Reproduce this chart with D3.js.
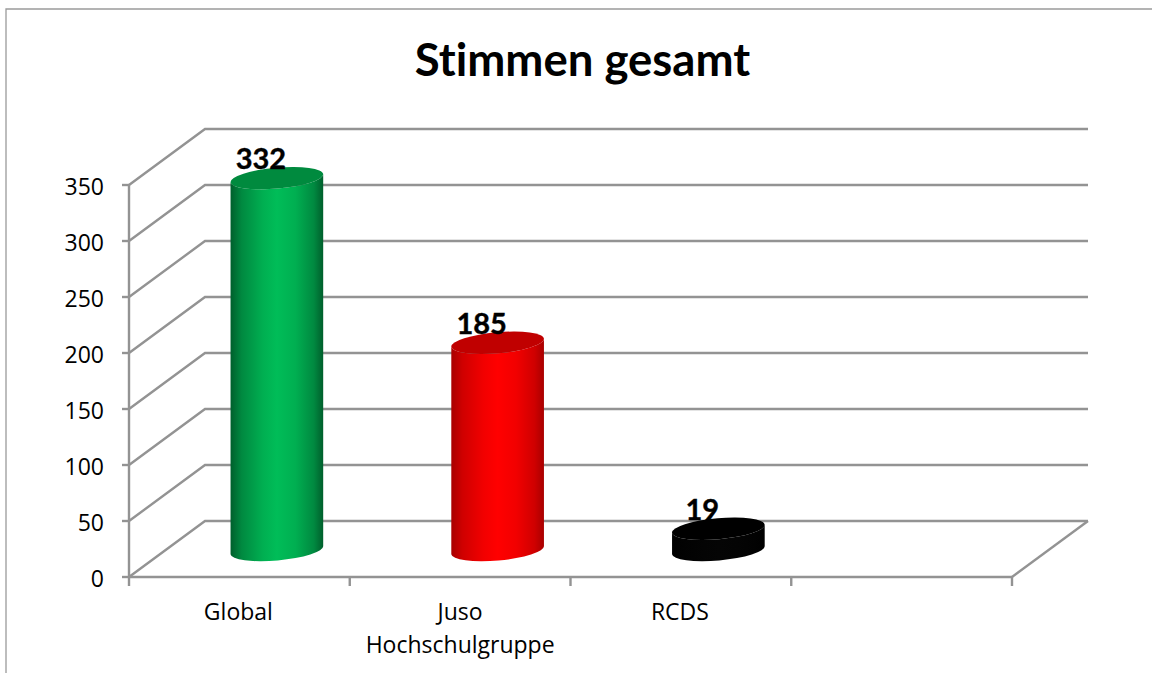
<!DOCTYPE html>
<html>
<head>
    <meta charset="UTF-8">
    <script src="https://d3js.org/d3.v7.min.js"></script>
    <style>
        html, body { margin: 0; padding: 0; background: #fff; overflow: hidden; }
        svg { display: block; }
        .axis text { font-family: "Open Sans", sans-serif; font-size: 23px; fill: #000; }
        .axis line, .axis path { stroke: #939393; stroke-width: 2.4px; }
    </style>
</head>
<body>
    <svg width="1152" height="673"></svg>
    <script>
        // values
        var title = "Stimmen gesamt";
        var categories = ["Global", "Juso Hochschulgruppe", "RCDS", ""];
        var values = [332, 185, 19];
        var yTicks = [0, 50, 100, 150, 200, 250, 300, 350];
        var edgeColors = ["#005f2c", "#a80000", "#000000"];
        var midColors = ["#00bd58", "#ff0000", "#050505"];
        var topColors = ["#008a3e", "#c00000", "#000000"];

        var svg = d3.select("svg");
        var grey = "#939393";

        // 3d offset of the back wall
        var depthX = 76, depthY = -56;

        var x = d3.scaleBand().domain(categories).range([129, 1012]);
        var xEdges = d3.scaleLinear().domain([0, 4]).range([129, 1012]);
        var y = d3.scaleLinear().domain([0, 350]).range([577, 185]);

        // outer frame of the chart
        svg.append("path")
            .attr("d", d3.line()([[6, 673], [6, 9], [1152, 9]]))
            .attr("fill", "none")
            .attr("stroke", "#9a9a9a")
            .attr("stroke-width", 1.3);

        svg.append("text")
            .attr("x", 582.5)
            .attr("y", 76)
            .attr("text-anchor", "middle")
            .style("font-family", "Lato, sans-serif")
            .style("font-weight", "bold")
            .style("font-size", "45.5px")
            .style("font-variant-ligatures", "none")
            .text(title);

        // wall lines
        var wall = svg.append("g").attr("fill", "none").attr("stroke", grey).attr("stroke-width", 2.4);
        yTicks.forEach(function (t) {
            wall.append("path").attr("d", d3.line()([
                [x.range()[0], y(t)],
                [x.range()[0] + depthX, y(t) + depthY],
                [x.range()[1] + depthX, y(t) + depthY]
            ]));
        });
        wall.append("path").attr("d", d3.line()([
            [x.range()[1], y(0)],
            [x.range()[1] + depthX, y(0) + depthY]
        ]));

        // axes
        var yAxis = d3.axisLeft(y).tickValues(yTicks).tickSize(7).tickPadding(18).tickSizeOuter(0).offset(0);
        var yG = svg.append("g")
            .attr("class", "axis")
            .attr("transform", "translate(129,0)")
            .call(yAxis);
        yG.selectAll("text").attr("dy", "0.42em");

        var xAxis = d3.axisBottom(xEdges).ticks(4).tickSize(9).tickSizeOuter(0).tickFormat("").offset(0);
        svg.append("g")
            .attr("class", "axis")
            .attr("transform", "translate(0,577)")
            .call(xAxis);

        // category labels, wrapped like the original
        var labels = svg.append("g").attr("class", "axis");
        categories.forEach(function (c) {
            if (!c) return;
            var words = c.split(" ");
            var t = labels.append("text")
                .attr("text-anchor", "middle")
                .attr("y", 620);
            words.forEach(function (w, i) {
                t.append("tspan")
                    .attr("x", x(c) + x.bandwidth() / 2 - (words.length > 1 ? 0 : 1))
                    .attr("dy", i ? 33 : 0)
                    .text(w);
            });
        });

        // gradients for the cylinders
        var defs = svg.append("defs");
        var gradStops = [[0, 0], [12, 0.45], [35, 0.85], [50, 1], [70, 0.85], [90, 0.45], [100, 0]];
        values.forEach(function (v, i) {
            var g = defs.append("linearGradient").attr("id", "bar" + i);
            gradStops.forEach(function (s) {
                g.append("stop")
                    .attr("offset", s[0] + "%")
                    .attr("stop-color", d3.interpolateRgb(edgeColors[i], midColors[i])(s[1]));
            });
        });

        // cylinders
        var rx = 46.5, ry = 10.5, tilt = -5;
        var tiltRad = tilt * Math.PI / 180;
        var endX = rx * Math.cos(tiltRad), endY = rx * Math.sin(tiltRad);

        function arc(cx, cy, sweep) {
            return "A" + rx + "," + ry + " " + tilt + " 0 " + sweep + " " + (cx + (sweep ? -endX : endX)) + "," + (cy + (sweep ? -endY : endY));
        }

        var bars = svg.selectAll(".bar").data(values).enter().append("g").attr("class", "bar");
        bars.each(function (v, i) {
            var g = d3.select(this);
            var cx = x(categories[i]) + x.bandwidth() / 2 + depthX / 2 - 0.5;
            var bottom = y(0) + depthY / 2 + 1;
            var top = y(v) + depthY / 2 + 1;

            // side of the cylinder
            g.append("path")
                .attr("fill", "url(#bar" + i + ")")
                .attr("d", "M" + (cx - endX) + "," + (top - endY)
                    + "L" + (cx - endX) + "," + (bottom - endY)
                    + arc(cx, bottom, 0)
                    + "L" + (cx + endX) + "," + (top + endY)
                    + arc(cx, top, 1) + "Z");

            // lid
            g.append("ellipse")
                .attr("rx", rx)
                .attr("ry", ry)
                .attr("transform", "translate(" + cx + "," + top + ") rotate(" + tilt + ")")
                .attr("fill", topColors[i]);

            g.append("text")
                .attr("x", cx - 16)
                .attr("y", top - 9)
                .attr("text-anchor", "middle")
                .style("font-family", "Lato, sans-serif")
                .style("font-weight", "bold")
                .style("font-size", "29px")
                .style("stroke", "#000")
                .style("stroke-width", 0.4)
                .text(v);
        });
    </script>
</body>
</html>
